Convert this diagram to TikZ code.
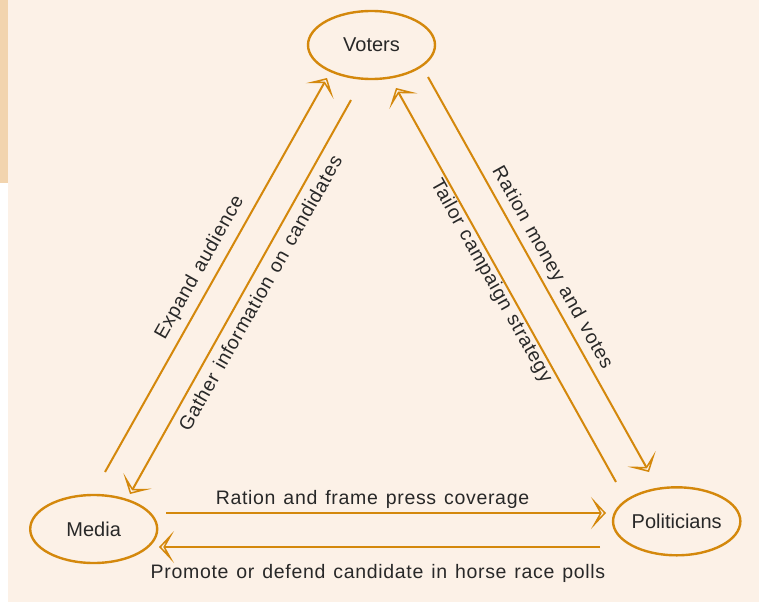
\documentclass[tikz,border=0pt]{standalone}
\usepackage{fontspec}
\setmainfont{Liberation Sans}
\newfontfamily\spacedfont[LetterSpace=3.5,WordSpace=1.3]{Liberation Sans}
\usetikzlibrary{arrows.meta,shapes.geometric}
\definecolor{bg}{RGB}{252,241,231}
\definecolor{bar}{RGB}{242,212,174}
\definecolor{org}{RGB}{212,136,12}
\definecolor{txt}{RGB}{40,40,40}
\begin{document}
\begin{tikzpicture}[x=1pt,y=-1pt,
  actor/.style={ellipse,draw=org,line width=2.4pt,minimum width=127pt,minimum height=68pt,inner sep=0pt,text=txt,font=\fontsize{20}{24}\selectfont},
  flow/.style={draw=org,line width=2pt,-{Stealth[open,length=15pt,width=32pt,inset=9pt]}},
  lbl/.style={text=txt,font=\spacedfont\fontsize{19.5}{23}\selectfont,inner sep=0pt}]
\useasboundingbox (0,0) rectangle (759,602);
\fill[white] (0,0) rectangle (759,602);
\fill[bg] (8,0) rectangle (759,602);
\fill[bar] (0,0) rectangle (8,183);
% actors
\node[actor] (voters) at (371.5,45) {Voters};
\node[actor] (media) at (93.7,529) {Media};
\node[actor] (pol) at (676.7,521.3) {Politicians};
% connector ends
\coordinate (c1s) at (105,472); \coordinate (c1e) at (327,78);
\coordinate (c2s) at (351,100); \coordinate (c2e) at (130,494);
\coordinate (c3s) at (616,482); \coordinate (c3e) at (396,88);
\coordinate (c4s) at (428,77);  \coordinate (c4e) at (649,472);
\coordinate (c5s) at (166,513); \coordinate (c5e) at (606,513);
\coordinate (c6s) at (600,547); \coordinate (c6e) at (159,547);
\draw[flow] (c1s) -- (c1e);
\draw[flow] (c2s) -- (c2e);
\draw[flow] (c3s) -- (c3e);
\draw[flow] (c4s) -- (c4e);
\draw[flow] (c5s) -- (c5e);
\draw[flow] (c6s) -- (c6e);
% labels
\node[lbl,rotate=60.6] (l1) at (200,268) {Expand audience};
\node[lbl,rotate=60.6] (l2) at (260,293) {Gather information on candidates};
\node[lbl,rotate=-60.8] (l3) at (491,281) {Tailor campaign strategy};
\node[lbl,rotate=-60.8] (l4) at (552,268) {Ration money and votes};
\node[lbl,anchor=base] (l5) at (372.5,504.3) {Ration and frame press coverage};
\node[lbl,anchor=base] (l6) at (378,578.3) {Promote or defend candidate in horse race polls};
\end{tikzpicture}
\end{document}
